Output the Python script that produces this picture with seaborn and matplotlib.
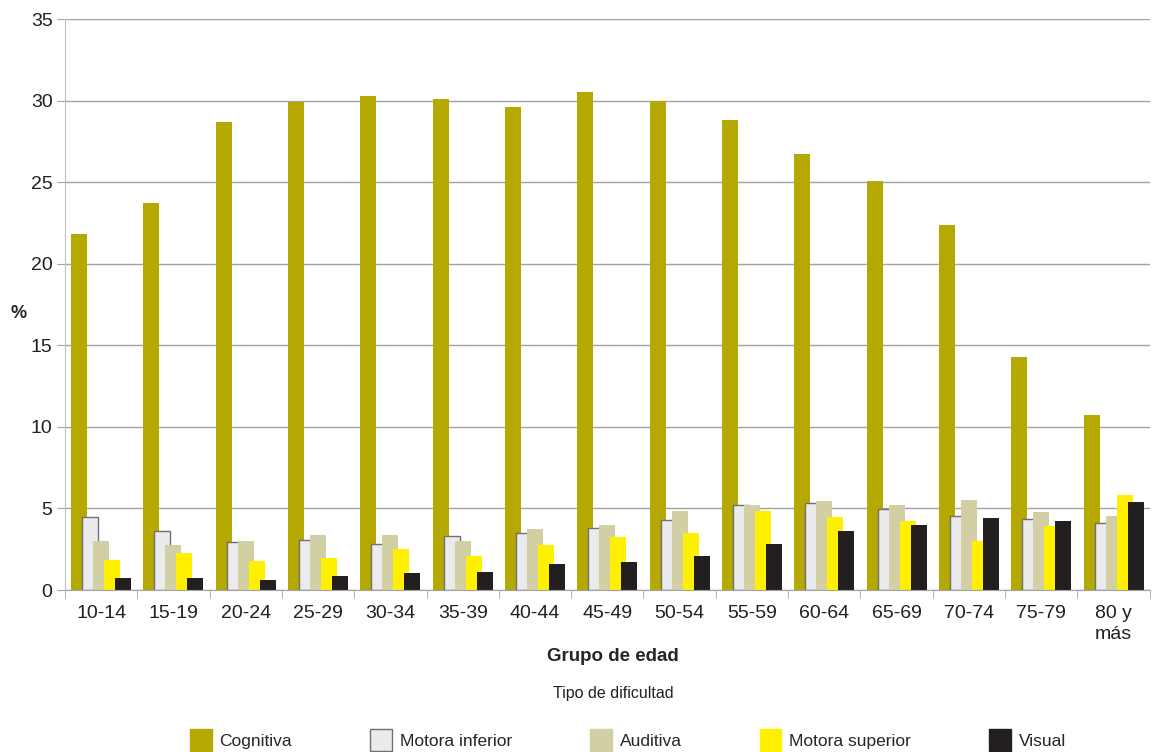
import matplotlib
matplotlib.use("Agg")
import matplotlib.pyplot as plt
import matplotlib.patches as mpatches
import seaborn as sns
import pandas as pd
import numpy as np

grupos = ["10-14", "15-19", "20-24", "25-29", "30-34", "35-39", "40-44", "45-49",
          "50-54", "55-59", "60-64", "65-69", "70-74", "75-79", "80 y\nmás"]
tipos = ["Cognitiva", "Motora inferior", "Auditiva", "Motora superior", "Visual"]

cognitiva = [21.8, 23.7, 28.7, 29.9, 30.3, 30.1, 29.6, 30.5, 30.0, 28.8, 26.7, 25.1, 22.4, 14.3, 10.7]
motora_inf = [4.46, 3.60, 2.92, 3.05, 2.84, 3.29, 3.47, 3.78, 4.27, 5.19, 5.31, 4.99, 4.56, 4.35, 4.13]
auditiva = [3.00, 2.76, 3.00, 3.37, 3.37, 3.00, 3.74, 3.98, 4.84, 5.21, 5.46, 5.21, 5.52, 4.78, 4.54]
motora_sup = [1.84, 2.27, 1.78, 1.98, 2.51, 2.08, 2.76, 3.25, 3.49, 4.84, 4.47, 4.23, 3.00, 3.92, 5.82]
visual = [0.74, 0.74, 0.61, 0.86, 1.04, 1.10, 1.59, 1.72, 2.08, 2.82, 3.62, 3.98, 4.41, 4.23, 5.39]

colores = ["#b5a800", "#ebebee", "#d3cfa5", "#fff000", "#231f20"]

df = pd.DataFrame({"grupo": grupos, "Cognitiva": cognitiva, "Motora inferior": motora_inf,
                   "Auditiva": auditiva, "Motora superior": motora_sup, "Visual": visual})
df = df.melt(id_vars="grupo", var_name="tipo", value_name="pct")

sns.set_style("white")
plt.rcParams["font.family"] = ["Liberation Sans", "DejaVu Sans"]

fig = plt.figure(figsize=(11.52, 7.52), dpi=100)
ax = fig.add_axes([0.0564, 0.2154, 0.9416, 0.7593])

sns.barplot(data=df, x="grupo", y="pct", hue="tipo", hue_order=tipos, order=grupos,
            palette=colores, width=0.76, saturation=1, errorbar=None, legend=False, ax=ax)

# bars overlap a bit in the original: widen them around their centres
bw = 0.221
for p in ax.patches:
    c = p.get_x() + p.get_width() / 2
    p.set_width(bw)
    p.set_x(c - bw / 2)
    p.set_linewidth(0)
for cont, t in zip(ax.containers, tipos):
    if t == "Motora inferior":
        for p in cont:
            p.set_edgecolor("#707070")
            p.set_linewidth(1.0)

ax.set_ylim(0, 35)
ax.set_xlim(-0.5, 14.5)
ax.set_yticks(np.arange(0, 36, 5))
ax.yaxis.grid(True, color="#a3a3a3", linewidth=1)
ax.set_axisbelow(True)
for s in ["top", "right"]:
    ax.spines[s].set_visible(False)
ax.spines["left"].set_color("#c0c0c0")
ax.spines["bottom"].set_color("#a3a3a3")
ax.tick_params(axis="y", left=True, length=6, color="#a3a3a3", labelsize=14, labelcolor="#231f20", pad=3)
ax.tick_params(axis="x", bottom=False, labelsize=14, labelcolor="#231f20", pad=7)
ax.set_xticks(np.arange(-0.5, 15, 1), minor=True)
ax.tick_params(axis="x", which="minor", bottom=True, length=6, color="#a3a3a3")
for lab in ax.get_xticklabels():
    lab.set_linespacing(1.3)
    lab.set_verticalalignment("top")

ax.set_ylabel("%", rotation=0, fontsize=13, fontweight="bold")
ax.yaxis.set_label_coords(-0.043, 0.47)
ax.set_xlabel("Grupo de edad", fontsize=13.5, fontweight="bold")
ax.xaxis.set_label_coords(0.505, -0.102)

fig.text(0.532, 0.078, "Tipo de dificultad", ha="center", va="center", fontsize=11.5, color="#231f20")

handles = []
for t, c in zip(tipos, colores):
    ec = "#707070" if t == "Motora inferior" else c
    handles.append(mpatches.Patch(facecolor=c, edgecolor=ec, label=t))
fig.legend(handles=handles, loc="center", bbox_to_anchor=(0.545, 0.016), ncol=5, frameon=False,
           fontsize=12.5, handlelength=1.25, handleheight=1.5, handletextpad=0.45, columnspacing=4.5)

fig.savefig("out.png", dpi=100)
